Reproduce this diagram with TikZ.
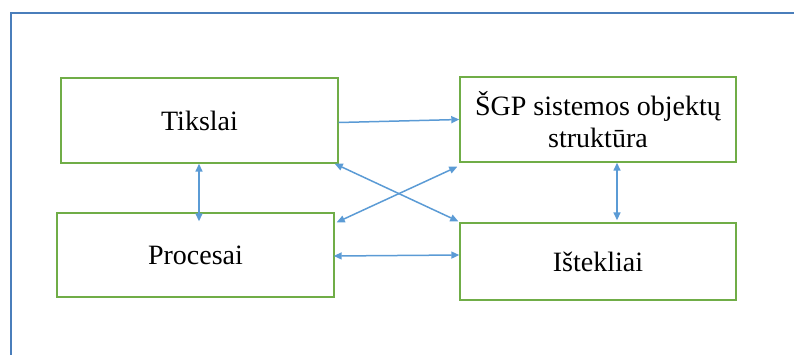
\documentclass[tikz,border=0pt]{standalone}
\usepackage{fontspec}
\setmainfont{Liberation Serif}
\usetikzlibrary{arrows.meta,calc}
\definecolor{framecol}{HTML}{4A7EBB}
\definecolor{arrcol}{HTML}{5B9BD5}
\definecolor{boxcol}{HTML}{70AD47}
\begin{document}
\begin{tikzpicture}[x=1pt,y=-1pt,
  box/.style={draw=boxcol,line width=1.4pt,rectangle,inner sep=0pt,align=center,
    font=\fontsize{28}{32}\selectfont},
  conn/.style={draw=arrcol,line width=1.5pt,{Triangle[length=8pt,width=7pt]}-{Triangle[length=8pt,width=7pt]}},
  conn1/.style={draw=arrcol,line width=1.5pt,-{Triangle[length=8pt,width=7pt]}}]
\useasboundingbox (0,0) rectangle (794,354);
\coordinate (fa) at (11,356);
\coordinate (fb) at (11,13);
\coordinate (fc) at (796,13);
\draw[framecol,line width=1.5pt] (fa) -- (fb) -- (fc);
\node[box,minimum width=277pt,minimum height=85pt] (T) at (199.5,120.5) {Tikslai};
\node[box,minimum width=277pt,minimum height=84pt] (P) at (195.5,255) {Procesai};
\node[box,minimum width=276pt,minimum height=85pt] (S) at (598,119.5) {ŠGP sistemos objektų\\struktūra};
\node[box,minimum width=276pt,minimum height=77pt] (I) at (598,261.5) {Ištekliai};
\draw[conn1] ($(T.east)+(0,2)$) -- (S.west);
\draw[conn] ($(T.south)+(-0.5,0)$) -- ($(T.south |- P.north)+(-0.5,9)$);
\draw[conn] ($(S.south)+(19,0)$) -- ($(I.north)+(19,-2)$);
\draw[conn] ($(P.east)+(-1,1)$) -- ($(I.west |- P.east)+(0,0)$);
\draw[conn] ($(T.south east)+(-4,0)$) -- ($(I.north west)+(-1,-1)$);
\draw[conn] ($(P.north east)+(2,10)$) -- ($(S.south west)+(-2,4)$);
\end{tikzpicture}
\end{document}
